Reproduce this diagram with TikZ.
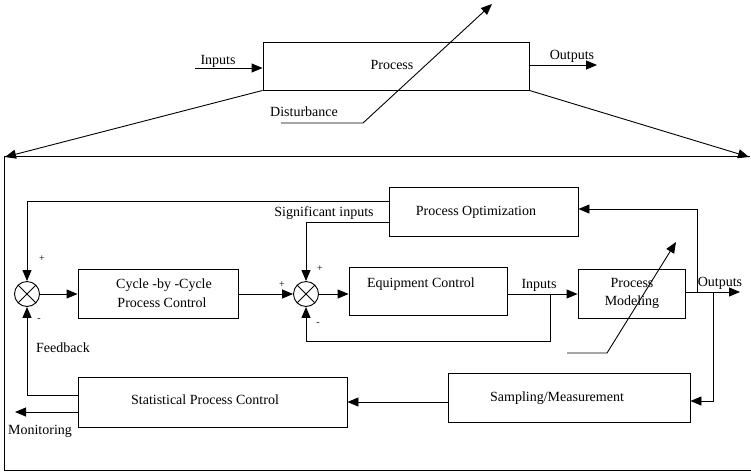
\documentclass[tikz,border=0pt]{standalone}
\usepackage{fontspec}
\setmainfont{Liberation Serif}
\usetikzlibrary{arrows.meta,calc}
\begin{document}
\begin{tikzpicture}[x=1pt,y=-1pt, line width=0.9pt,
  arr/.style={-{Triangle[length=11pt,width=9pt]}},
  box/.style={draw, rectangle, inner sep=0pt},
  txt/.style={inner sep=0pt, text height=9.5pt, text depth=0pt, font=\fontsize{14}{16}\selectfont},
  sgn/.style={inner sep=0pt, font=\fontsize{10}{12}\selectfont},
  sumj/.style={draw, circle, minimum size=25pt, inner sep=0pt,
    path picture={\draw (path picture bounding box.north west) -- (path picture bounding box.south east)
      (path picture bounding box.south west) -- (path picture bounding box.north east);}}]
\useasboundingbox (0,0) rectangle (751,472);

% ---------- top part ----------
\node[box, minimum width=266pt, minimum height=48pt] (proc) at (396,66) {};
\node[txt] (proctxt) at (392,65) {Process};
\coordinate (inL) at (195,68);
\coordinate (outR) at (597,65);
\draw[arr] (inL) -- (proc.west |- inL);
\node[txt] (inlab) at (218,60) {Inputs};
\draw[arr] (proc.east |- outR) -- (outR);
\node[txt] (outlab) at (572,55) {Outputs};
\coordinate (d0) at (281,123);
\coordinate (d1) at (363,123);
\coordinate (d2) at (492,4);
\draw[arr] (d0) -- (d1) -- (d2);
\node[txt] (distlab) at (304,112) {Disturbance};

% funnel and frame
\coordinate (fl) at (5,157);
\coordinate (fr) at (749,157);
\draw[arr] (proc.south west) -- (fl);
\draw[arr] (proc.south east) -- (fr);
\coordinate (ftl) at (4,156);
\coordinate (ftr) at (750,156);
\coordinate (fbl) at (4,470);
\coordinate (fbr) at (751,470);
\draw (ftr) -- (ftl) -- (fbl) -- (fbr);

% ---------- lower diagram ----------
\node[sumj] (s1) at (27,294) {};
\node[sumj] (s2) at (306,294) {};
\node[box, minimum width=160pt, minimum height=49pt] (cbc) at (158,293.5) {};
\node[txt] (cbc1) at (164,284) {Cycle -by -Cycle};
\node[txt] (cbc2) at (162,303) {Process Control};
\node[box, minimum width=158pt, minimum height=48pt] (ec) at (428,291) {};
\node[txt] (ectxt) at (421,283) {Equipment Control};
\node[box, minimum width=189pt, minimum height=49pt] (po) at (483.5,211.5) {};
\node[txt] (potxt) at (476,211) {Process Optimization};
\node[box, minimum width=107pt, minimum height=49pt] (pm) at (631.5,293.5) {};
\node[txt] (pm1) at (632,283) {Process};
\node[txt] (pm2) at (632,301) {Modeling};
\node[box, minimum width=269pt, minimum height=50pt] (spc) at (212.5,402) {};
\node[txt] (spctxt) at (205,400) {Statistical Process Control};
\node[box, minimum width=242pt, minimum height=49pt] (sm) at (569,397.5) {};
\node[txt] (smtxt) at (557,397) {Sampling/Measurement};

% signs
\node[sgn] (p1) at (42,259) {+};
\node[sgn] (m1) at (39,320) {-};
\node[sgn] (p2) at (282,285) {+};
\node[sgn] (p3) at (320,269) {+};
\node[sgn] (m2) at (318,324) {-};

% connectors
\draw[arr] (po.west |- 0,201) -| (s1.north);
\draw[arr] (po.west |- 0,222) -| (s2.north);
\node[txt] (siglab) at (324,212) {Significant inputs};
\draw[arr] (s1.east) -- (cbc.west |- s1.east);
\draw[arr] (cbc.east |- s2.west) -- (s2.west);
\draw[arr] (s2.east) -- (ec.west |- s2.east);
\coordinate (ecout) at (ec.east |- 0,294);
\draw[arr] (ecout) -- (pm.west |- ecout);
\node[txt] (inlab2) at (539,284) {Inputs};
\coordinate (br) at (550,294);
\draw[arr] (br) -- (550,341) -| (s2.south);
\coordinate (pmout) at (pm.east |- 0,292);
\coordinate (outend) at (740,292);
\draw[arr] (pmout) -- (outend);
\node[txt] (outlab2) at (720,282) {Outputs};
\coordinate (b1) at (697,292);
\draw[arr] (b1) |- (po.east |- 0,209);
\coordinate (b2) at (713,292);
\draw[arr] (b2) |- (sm.east |- 0,401);
\draw[arr] (sm.west |- 0,402) -- (spc.east |- 0,402);
\draw[arr] (spc.west |- 0,395) -| (s1.south);
\node[txt] (fblab) at (63,348) {Feedback};
\coordinate (mon) at (15,412);
\draw[arr] (spc.west |- mon) -- (mon);
\node[txt] (monlab) at (40,430) {Monitoring};
\coordinate (e0) at (567,353);
\coordinate (e1) at (607,353);
\coordinate (e2) at (676,242);
\draw[arr] (e0) -- (e1) -- (e2);
\end{tikzpicture}
\end{document}
